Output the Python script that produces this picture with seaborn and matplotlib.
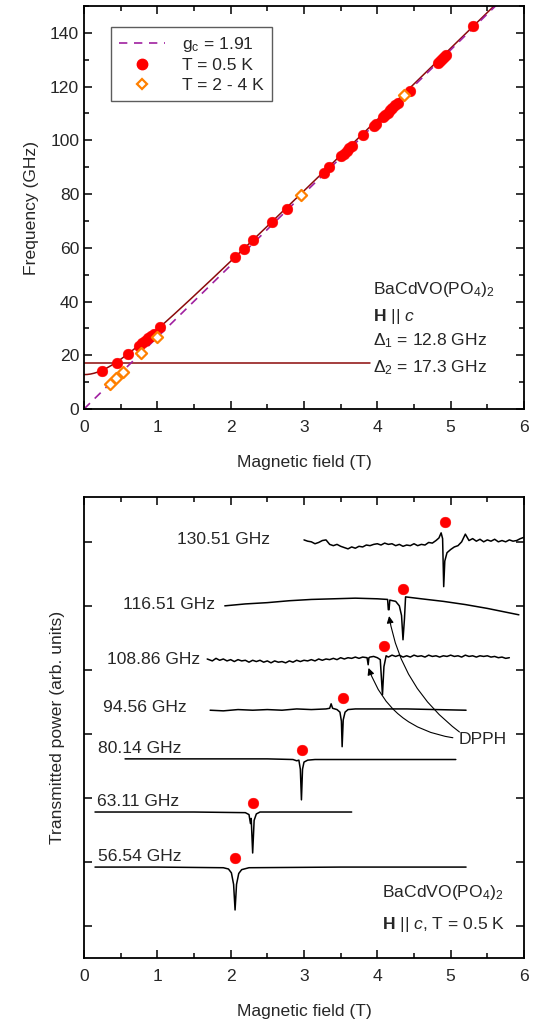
import numpy as np
import pandas as pd
import matplotlib
matplotlib.use("Agg")
import matplotlib.pyplot as plt
from matplotlib.lines import Line2D
from matplotlib.ticker import MultipleLocator
import seaborn as sns

sns.set_style("ticks")
plt.rcParams['font.family'] = ['Liberation Sans', 'DejaVu Sans']
plt.rcParams['mathtext.fontset'] = 'custom'
plt.rcParams['mathtext.rm'] = 'Liberation Sans'
plt.rcParams['mathtext.it'] = 'Liberation Sans:italic'
plt.rcParams['mathtext.bf'] = 'Liberation Sans:bold'

# ---------------- top panel data ----------------
red_B = [0.24, 0.45, 0.60, 0.75, 0.79, 0.83, 0.87, 0.91, 0.95, 1.04, 2.06, 2.18, 2.31,
         2.57, 2.77, 3.27, 3.34, 3.50, 3.54, 3.58, 3.62, 3.66, 3.80, 3.95, 3.98, 4.08,
         4.11, 4.14, 4.17, 4.20, 4.24, 4.28, 4.45, 4.83, 4.86, 4.88, 4.91, 4.93, 5.31]
red_f = [14.1, 17.1, 20.5, 23.6, 24.5, 25.4, 26.3, 27.3, 28.0, 30.6, 56.6, 59.6, 62.9,
         69.6, 74.4, 87.9, 90.0, 94.0, 94.8, 96.0, 97.1, 98.0, 102.0, 105.4, 106.0, 108.7,
         109.5, 110.3, 111.2, 112.0, 113.0, 114.0, 118.4, 128.6, 129.5, 130.3, 131.2, 131.9, 142.6]
orange_B = [0.35, 0.44, 0.53, 0.78, 1.00, 2.96, 4.37]
orange_f = [9.3, 11.5, 13.8, 20.8, 26.8, 79.7, 116.9]

g_c = 1.91
muB_h = 13.996  # GHz/T
delta1 = 12.8
delta2 = 17.3
delta2_B_end = 3.9

# ---------------- bottom panel data ----------------
freq_labels = ["130.51 GHz", "116.51 GHz", "108.86 GHz", "94.56 GHz",
               "80.14 GHz", "63.11 GHz", "56.54 GHz"]
label_x = [1.27, 0.53, 0.31, 0.26, 0.19, 0.18, 0.19]
label_y = [6.53, 5.52, 4.66, 3.92, 3.27, 2.44, 1.58]

res_B = [4.92, 4.35, 4.09, 3.53, 2.97, 2.30, 2.06]
res_y = [6.81, 5.77, 4.88, 4.06, 3.25, 2.42, 1.56]

t130_x = [3.00, 3.05, 3.10, 3.15, 3.20, 3.25, 3.30, 3.35, 3.40, 3.45, 3.50, 3.55, 3.60, 3.65,
          3.70, 3.75, 3.80, 3.85, 3.90, 3.95, 4.00, 4.05, 4.10, 4.15, 4.20, 4.25, 4.30, 4.35,
          4.40, 4.45, 4.50, 4.55, 4.60, 4.65, 4.70, 4.75, 4.80, 4.84, 4.87, 4.89, 4.905, 4.92,
          4.95, 5.00, 5.05, 5.10, 5.15, 5.20, 5.25, 5.30, 5.35, 5.40, 5.45, 5.50, 5.55, 5.60,
          5.65, 5.70, 5.75, 5.80, 5.85, 5.90, 5.95, 6.00]
t130_y = [6.53, 6.51, 6.50, 6.47, 6.49, 6.52, 6.53, 6.46, 6.44, 6.46, 6.43, 6.41, 6.39, 6.42,
          6.40, 6.43, 6.42, 6.45, 6.44, 6.46, 6.47, 6.45, 6.48, 6.46, 6.47, 6.44, 6.46, 6.43,
          6.45, 6.44, 6.47, 6.44, 6.46, 6.45, 6.49, 6.48, 6.52, 6.56, 6.64, 6.55, 5.80, 6.20,
          6.33, 6.38, 6.42, 6.44, 6.50, 6.62, 6.52, 6.55, 6.51, 6.54, 6.50, 6.53, 6.51, 6.54,
          6.50, 6.52, 6.50, 6.53, 6.51, 6.52, 6.55, 6.57]

t116_x = [1.92, 2.2, 2.5, 2.8, 3.1, 3.4, 3.7, 4.0, 4.14, 4.15, 4.16, 4.17, 4.25, 4.30, 4.33,
          4.35, 4.37, 4.385, 4.6, 4.9, 5.2, 5.5, 5.93]
t116_y = [5.50, 5.53, 5.55, 5.58, 5.60, 5.61, 5.62, 5.61, 5.60, 5.44, 5.44, 5.59, 5.57, 5.50,
          5.35, 4.97, 5.30, 5.64, 5.61, 5.57, 5.52, 5.46, 5.36]

t108_x = [1.68, 1.75, 1.80, 1.85, 1.90, 1.95, 2.00, 2.05, 2.10, 2.15, 2.20, 2.25, 2.30, 2.35,
          2.40, 2.45, 2.50, 2.55, 2.60, 2.65, 2.70, 2.75, 2.80, 2.85, 2.90, 2.95, 3.00, 3.05,
          3.10, 3.15, 3.20, 3.25, 3.30, 3.35, 3.40, 3.45, 3.50, 3.55, 3.60, 3.65, 3.70, 3.75,
          3.80, 3.86, 3.875, 3.885, 3.90, 3.95, 4.00, 4.04, 4.07, 4.09, 4.12, 4.15, 4.20, 4.25,
          4.30, 4.35, 4.40, 4.45, 4.50, 4.55, 4.60, 4.65, 4.70, 4.75, 4.80, 4.85, 4.90, 4.95,
          5.00, 5.05, 5.10, 5.15, 5.20, 5.25, 5.30, 5.35, 5.40, 5.45, 5.50, 5.55, 5.60, 5.65,
          5.70, 5.75, 5.80]
t108_y = [4.67, 4.64, 4.68, 4.65, 4.67, 4.64, 4.66, 4.63, 4.66, 4.64, 4.65, 4.62, 4.65, 4.63,
          4.65, 4.62, 4.64, 4.61, 4.64, 4.62, 4.63, 4.61, 4.64, 4.62, 4.65, 4.63, 4.65, 4.64,
          4.66, 4.64, 4.67, 4.65, 4.67, 4.66, 4.68, 4.66, 4.69, 4.67, 4.69, 4.68, 4.70, 4.68,
          4.70, 4.69, 4.58, 4.69, 4.70, 4.71, 4.69, 4.66, 4.11, 4.55, 4.72, 4.70, 4.73, 4.71,
          4.73, 4.70, 4.72, 4.70, 4.73, 4.71, 4.72, 4.70, 4.73, 4.71, 4.72, 4.70, 4.72, 4.71,
          4.73, 4.71, 4.72, 4.70, 4.73, 4.71, 4.72, 4.70, 4.72, 4.71, 4.72, 4.70, 4.71, 4.69,
          4.70, 4.68, 4.69]

t94_x = [1.72, 1.9, 2.1, 2.3, 2.5, 2.7, 2.9, 3.1, 3.3, 3.35, 3.37, 3.39, 3.45, 3.49, 3.51,
         3.52, 3.535, 3.56, 3.60, 3.7, 4.0, 4.4, 4.8, 5.21]
t94_y = [3.87, 3.86, 3.88, 3.87, 3.88, 3.87, 3.89, 3.88, 3.89, 3.90, 3.97, 3.90, 3.88, 3.84,
         3.70, 3.30, 3.72, 3.84, 3.88, 3.89, 3.89, 3.89, 3.88, 3.87]

t80_x = [0.56, 1.5, 2.5, 2.85, 2.90, 2.93, 2.95, 2.965, 2.98, 3.00, 3.05, 3.15, 4.0, 5.07]
t80_y = [3.11, 3.11, 3.11, 3.10, 3.08, 3.09, 2.95, 2.47, 2.95, 3.06, 3.09, 3.10, 3.10, 3.10]

t63_x = [0.15, 1.5, 2.2, 2.25, 2.27, 2.28, 2.30, 2.32, 2.35, 2.40, 3.0, 3.65]
t63_y = [2.28, 2.28, 2.27, 2.24, 2.10, 2.18, 1.64, 2.15, 2.25, 2.28, 2.28, 2.28]

t56_x = [0.15, 1.0, 1.9, 1.97, 2.01, 2.04, 2.06, 2.08, 2.11, 2.15, 2.25, 3.5, 5.21]
t56_y = [1.42, 1.42, 1.41, 1.39, 1.33, 1.15, 0.75, 1.15, 1.32, 1.38, 1.41, 1.42, 1.42]

traces = [(t130_x, t130_y), (t116_x, t116_y), (t108_x, t108_y), (t94_x, t94_y),
          (t80_x, t80_y), (t63_x, t63_y), (t56_x, t56_y)]

# ---------------- figure ----------------
fig = plt.figure(figsize=(5.38, 10.26), dpi=100)
ax1 = fig.add_axes([84/538, 1-409/1026, 440/538, 403/1026])
ax2 = fig.add_axes([84/538, 1-958/1026, 440/538, 461/1026])

FS = 12.6

# top panel lines
B_line = np.linspace(0, 6, 400)
df_g = pd.DataFrame({"B": [0.0, 6.0], "f": [0.0, g_c * muB_h * 6.0]})
df_fit = pd.DataFrame({"B": B_line, "f": np.sqrt(delta1**2 + (g_c * muB_h * B_line)**2)})
df_h = pd.DataFrame({"B": [0.0, delta2_B_end], "f": [delta2, delta2]})

sns.lineplot(data=df_fit, x="B", y="f", ax=ax1, color="#8b0a0a", lw=1.1, sort=False, estimator=None)
sns.lineplot(data=df_h, x="B", y="f", ax=ax1, color="#8b0a0a", lw=1.1, sort=False, estimator=None)
sns.lineplot(data=df_g, x="B", y="f", ax=ax1, color="#a020a0", lw=1.2, sort=False,
             estimator=None, linestyle=(0, (5, 4)))

sns.scatterplot(x=red_B, y=red_f, ax=ax1, color="#ff0000", s=60, edgecolor="#ff0000",
                linewidth=0.3, zorder=4)
sns.scatterplot(x=orange_B, y=orange_f, ax=ax1, marker="D", s=32, facecolor="white",
                edgecolor="#ff8000", linewidth=1.6, zorder=5)

ax1.set_xlim(0, 6)
ax1.set_ylim(0, 150)
ax1.xaxis.set_major_locator(MultipleLocator(1))
ax1.xaxis.set_minor_locator(MultipleLocator(0.5))
ax1.yaxis.set_major_locator(MultipleLocator(20))
ax1.yaxis.set_minor_locator(MultipleLocator(10))
ax1.set_xlabel("Magnetic field (T)", fontsize=FS, labelpad=14)
ax1.set_ylabel("Frequency (GHz)", fontsize=FS, labelpad=8)

handles = [Line2D([0], [0], color="#a020a0", lw=1.2, linestyle=(0, (5, 4))),
           Line2D([0], [0], marker="o", color="none", markerfacecolor="#ff0000",
                  markeredgecolor="#ff0000", markersize=7.5),
           Line2D([0], [0], marker="D", color="none", markerfacecolor="white",
                  markeredgecolor="#ff8000", markeredgewidth=1.6, markersize=5.5)]
leg = ax1.legend(handles, [r"g$_\mathrm{c}$ = 1.91", "T = 0.5 K", "T = 2 - 4 K"],
                 loc="upper left", bbox_to_anchor=(0.062, 0.948), fontsize=FS, frameon=True,
                 fancybox=False, borderpad=0.45, handlelength=2.6, handletextpad=1.0,
                 labelspacing=0.25, borderaxespad=0)
leg.get_frame().set_edgecolor("#333333")
leg.get_frame().set_linewidth(1.0)

ax1.text(3.94, 44.3, "BaCdVO(PO$_4$)$_2$", fontsize=FS, va="center")
ax1.text(3.94, 34.6, r"$\mathbf{H}$ || $c$", fontsize=FS, va="center")
ax1.text(3.94, 25.3, r"$\Delta_1$ = 12.8 GHz", fontsize=FS, va="center")
ax1.text(3.94, 15.3, r"$\Delta_2$ = 17.3 GHz", fontsize=FS, va="center")

# bottom panel
for (tx, ty) in traces:
    sns.lineplot(x=tx, y=ty, ax=ax2, color="black", lw=1.1, sort=False, estimator=None)
sns.scatterplot(x=res_B, y=res_y, ax=ax2, color="#ff0000", s=60, edgecolor="#ff0000",
                linewidth=0.3, zorder=4)
for lab, lx, ly in zip(freq_labels, label_x, label_y):
    ax2.text(lx, ly, lab, fontsize=FS, va="center", ha="left")

ax2.text(4.06, 1.02, "BaCdVO(PO$_4$)$_2$", fontsize=FS, va="center")
ax2.text(4.06, 0.53, r"$\mathbf{H}$ || $c$, T = 0.5 K", fontsize=FS, va="center")
ax2.text(5.11, 3.41, "DPPH", fontsize=FS, va="center")

arrow_kw = dict(arrowstyle="-|>", color="black", lw=0.8, mutation_scale=10,
                shrinkA=0, shrinkB=0)
ax2.annotate("", xy=(3.88, 4.53), xytext=(5.03, 3.44),
             arrowprops=dict(connectionstyle="arc3,rad=-0.3", **arrow_kw))
ax2.annotate("", xy=(4.16, 5.34), xytext=(5.12, 3.53),
             arrowprops=dict(connectionstyle="arc3,rad=-0.2", **arrow_kw))

ax2.set_xlim(0, 6)
ax2.set_ylim(0, 7.2)
ax2.xaxis.set_major_locator(MultipleLocator(1))
ax2.xaxis.set_minor_locator(MultipleLocator(0.5))
ax2.set_yticks([0.5, 1.5, 2.5, 3.5, 4.5, 5.5, 6.5])
ax2.set_yticklabels([])
ax2.set_xlabel("Magnetic field (T)", fontsize=FS, labelpad=14)
ax2.set_ylabel("Transmitted power (arb. units)", fontsize=FS, labelpad=10)

for ax in (ax1, ax2):
    for sp in ax.spines.values():
        sp.set_visible(True)
        sp.set_linewidth(1.3)
        sp.set_color("black")
    ax.tick_params(which="both", direction="in", top=True, right=True, labelsize=FS,
                   color="black", width=1.1)
    ax.tick_params(which="major", length=6)
    ax.tick_params(which="minor", length=3.5)
    ax.tick_params(axis="x", pad=8)

fig.savefig("out.png", dpi=100)
